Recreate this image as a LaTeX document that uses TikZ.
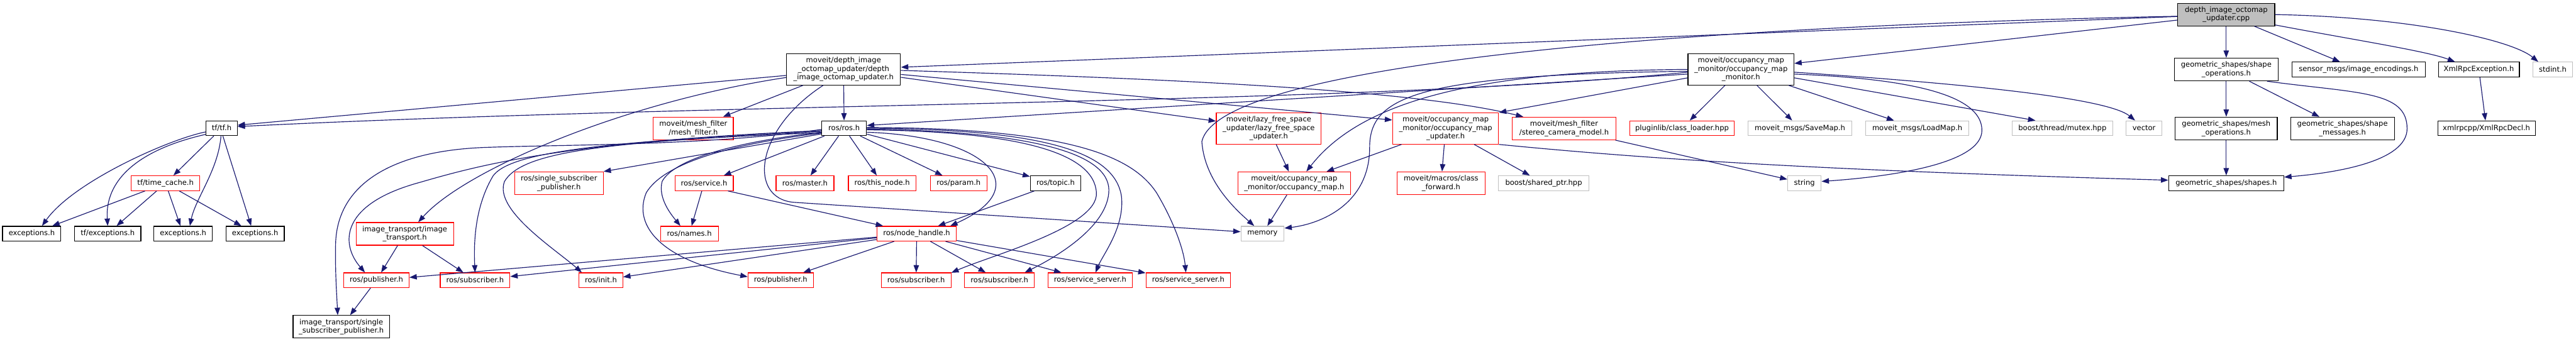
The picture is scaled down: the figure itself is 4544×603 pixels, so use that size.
\documentclass[tikz,border=0pt]{standalone}
\usepackage{fontspec}
\setmainfont{DejaVu Sans}
\usepackage{xcolor}
\usepackage{tikz}
\usetikzlibrary{arrows.meta}
\definecolor{edgeblue}{HTML}{191970}
\definecolor{truncred}{HTML}{FF0000}
\definecolor{sysgrey}{HTML}{BFBFBF}
\tikzset{
  hdr/.style={draw=black, fill=white, line width=1.3pt, inner sep=1pt,
              align=center, minimum height=26pt,
              font=\fontsize{12.8}{15}\selectfont},
  hdrtrunc/.style={hdr, draw=truncred},
  hdrsys/.style={hdr, draw=sysgrey},
  hdrroot/.style={hdr, fill=sysgrey},
  lines2/.style={minimum height=40pt},
  lines3/.style={minimum height=55pt},
  dep/.style={draw=edgeblue, line width=1.3pt, -{Triangle[length=13pt,width=9.5pt]}}
}

\begin{document}
\begin{tikzpicture}[x=1pt,y=-1pt]
  \useasboundingbox (0,0) rectangle (4544,603);

  \node[hdrroot, lines2, minimum width=171pt] (root) at (3927,25.7) {depth\_image\_octomap\\\_updater.cpp};

  \node[hdr, lines3, minimum width=201pt] (depthh) at (1488,122.5) {moveit/depth\_image\\\_octomap\_updater/depth\\\_image\_octomap\_updater.h};
  \node[hdr, lines3, minimum width=187pt] (occmon) at (3071,122.5) {moveit/occupancy\_map\\\_monitor/occupancy\_map\\\_monitor.h};
  \node[hdr, lines2, minimum width=183pt] (shapeops) at (3927,122.7) {geometric\_shapes/shape\\\_operations.h};
  \node[hdr, minimum width=235pt] (imgenc) at (4160.5,122.7) {sensor\_msgs/image\_encodings.h};
  \node[hdr, minimum width=143pt] (xmlexc) at (4372.6,122.7) {XmlRpcException.h};
  \node[hdrsys, minimum width=70pt] (stdint) at (4503,122.7) {stdint.h};

  \node[hdr, minimum width=55pt] (tf) at (391,226.3) {tf/tf.h};
  \node[hdrtrunc, lines2, minimum width=141pt] (meshfilter) at (1223,226.7) {moveit/mesh\_filter\\/mesh\_filter.h};
  \node[hdr, minimum width=79pt] (ros) at (1489,226.3) {ros/ros.h};
  \node[hdrtrunc, lines3, minimum width=185pt] (lazy) at (2238,226.7) {moveit/lazy\_free\_space\\\_updater/lazy\_free\_space\\\_updater.h};
  \node[hdrtrunc, lines3, minimum width=187pt] (occupd) at (2550,226.7) {moveit/occupancy\_map\\\_monitor/occupancy\_map\\\_updater.h};
  \node[hdrtrunc, lines2, minimum width=183pt] (stereo) at (2759,226.7) {moveit/mesh\_filter\\/stereo\_camera\_model.h};
  \node[hdrtrunc, minimum width=184pt] (plugin) at (2967,226.3) {pluginlib/class\_loader.hpp};
  \node[hdrsys, minimum width=183pt] (savemap) at (3175,226.3) {moveit\_msgs/SaveMap.h};
  \node[hdrsys, minimum width=182pt] (loadmap) at (3382,226.3) {moveit\_msgs/LoadMap.h};
  \node[hdrsys, minimum width=177pt] (mutex) at (3638,226.3) {boost/thread/mutex.hpp};
  \node[hdrsys, minimum width=63pt] (vector) at (3782,226.3) {vector};
  \node[hdr, lines2, minimum width=180pt] (meshops) at (3927,226.7) {geometric\_shapes/mesh\\\_operations.h};
  \node[hdr, lines2, minimum width=183pt] (shapemsg) at (4132,226.7) {geometric\_shapes/shape\\\_messages.h};
  \node[hdr, minimum width=172pt] (xmldecl) at (4386,226.3) {xmlrpcpp/XmlRpcDecl.h};

  \node[hdrtrunc, minimum width=121pt] (timecache) at (292,323.3) {tf/time\_cache.h};
  \node[hdrtrunc, lines2, minimum width=156pt] (rossinglesub) at (986,323.3) {ros/single\_subscriber\\\_publisher.h};
  \node[hdrtrunc, minimum width=103pt] (service) at (1242,323.3) {ros/service.h};
  \node[hdrtrunc, minimum width=102pt] (master) at (1420,323.3) {ros/master.h};
  \node[hdrtrunc, minimum width=119pt] (thisnode) at (1556,323.3) {ros/this\_node.h};
  \node[hdrtrunc, minimum width=100pt] (param) at (1691,323.3) {ros/param.h};
  \node[hdr, minimum width=89pt] (topic) at (1862,323.3) {ros/topic.h};
  \node[hdrtrunc, lines2, minimum width=199pt] (occmap) at (2283,323.3) {moveit/occupancy\_map\\\_monitor/occupancy\_map.h};
  \node[hdrtrunc, lines2, minimum width=155pt] (classfwd) at (2542,323.3) {moveit/macros/class\\\_forward.h};
  \node[hdrsys, minimum width=159pt] (sharedptr) at (2723,323.3) {boost/shared\_ptr.hpp};
  \node[hdrsys, minimum width=59pt] (string) at (3183,323.3) {string};
  \node[hdr, minimum width=203pt] (shapes) at (3927,323.3) {geometric\_shapes/shapes.h};

  \node[hdr, minimum width=103pt] (exc1) at (56,412.3) {exceptions.h};
  \node[hdr, minimum width=117pt] (tfexc) at (190,412.3) {tf/exceptions.h};
  \node[hdr, minimum width=103pt] (exc2) at (323,412.3) {exceptions.h};
  \node[hdr, minimum width=103pt] (exc3) at (450,412.3) {exceptions.h};
  \node[hdrtrunc, lines2, minimum width=172pt] (imgtrans) at (714,412.7) {image\_transport/image\\\_transport.h};
  \node[hdrtrunc, minimum width=102pt] (names) at (1216,412.3) {ros/names.h};
  \node[hdrtrunc, minimum width=140pt] (nodehandle) at (1617,412.3) {ros/node\_handle.h};
  \node[hdrsys, minimum width=76pt] (memory) at (2227,412.3) {memory};

  \node[hdrtrunc, minimum width=115pt] (pub1) at (664,494.5) {ros/publisher.h};
  \node[hdrtrunc, minimum width=123pt] (sub1) at (838,494.5) {ros/subscriber.h};
  \node[hdrtrunc, minimum width=77pt] (init) at (1060,494.5) {ros/init.h};
  \node[hdrtrunc, minimum width=115pt] (pub2) at (1377,494.5) {ros/publisher.h};
  \node[hdrtrunc, minimum width=123pt] (sub2) at (1616,494.5) {ros/subscriber.h};
  \node[hdrtrunc, minimum width=123pt] (sub3) at (1763,494.5) {ros/subscriber.h};
  \node[hdrtrunc, minimum width=149pt] (srv1) at (1923,494.5) {ros/service\_server.h};
  \node[hdrtrunc, minimum width=149pt] (srv2) at (2096,494.5) {ros/service\_server.h};

  \node[hdr, lines2, minimum width=170pt] (imgsingle) at (602,576.7) {image\_transport/single\\\_subscriber\_publisher.h};

  % root file
  \draw[dep] (root) -- (depthh);
  \draw[dep] (root) -- (occmon);
  \draw[dep] (root) -- (shapeops);
  \draw[dep] (root) -- (imgenc);
  \draw[dep] (root.-12) .. controls (4150,70) and (4280,90) .. (xmlexc.162);
  \draw[dep] (root.east) .. controls (4250,30) and (4430,70) .. (stdint.152);
  \draw[dep] (root.182) .. controls (3000,45) and (2150,110) .. (2120,250) .. controls (2125,320) and (2180,370) .. (memory.137);

  % depth image updater header
  \draw[dep] (depthh.186) -- (tf.11);
  \draw[dep] (depthh) -- (meshfilter);
  \draw[dep] (depthh) -- (ros);
  \draw[dep] (depthh.188) .. controls (1100,180) and (820,300) .. (imgtrans.41);
  \draw[dep] (depthh) -- (lazy);
  \draw[dep] (depthh.-5) -- (occupd.171);
  \draw[dep] (depthh.-1) .. controls (2100,140) and (2500,160) .. (stereo.164);
  \draw[dep] (depthh.-142) .. controls (1330,230) and (1320,350) .. (1400,357) -- (memory.175);

  % occupancy map monitor
  \draw[dep] (occmon.183) .. controls (2400,185) and (1300,180) .. (tf.6);
  \draw[dep] (occmon.185) -- (ros.7);
  \draw[dep] (occmon.180) .. controls (2600,125) and (2400,180) .. (occmap.44);
  \draw[dep] (occmon.182) .. controls (2500,132) and (2416,170) .. (2416,260) .. controls (2416,360) and (2330,395) .. (memory.14);
  \draw[dep] (occmon.189) -- (occupd.north east);
  \draw[dep] (occmon) -- (plugin);
  \draw[dep] (occmon) -- (savemap);
  \draw[dep] (occmon) -- (loadmap);
  \draw[dep] (occmon.-9) -- (mutex.164);
  \draw[dep] (occmon.-3) .. controls (3500,150) and (3720,175) .. (vector.139);
  \draw[dep] (occmon.-5) .. controls (3400,140) and (3496,175) .. (3496,230) .. controls (3496,290) and (3330,312) .. (string.6);

  % geometric shapes
  \draw[dep] (shapeops) -- (meshops);
  \draw[dep] (shapeops) -- (shapemsg);
  \draw[dep] (shapeops.-16) .. controls (4160,165) and (4246,160) .. (4246,227) .. controls (4246,285) and (4120,305) .. (shapes.6);
  \draw[dep] (meshops) -- (shapes);
  \draw[dep] (xmlexc) -- (xmldecl);

  % tf
  \draw[dep] (tf) -- (timecache);
  \draw[dep] (tf.193) .. controls (300,245) and (130,320) .. (exc1.37);
  \draw[dep] (tf.201) .. controls (240,265) and (185,320) .. (tfexc.north);
  \draw[dep] (tf.-95) .. controls (385,300) and (345,350) .. (exc2.49);
  \draw[dep] (tf.-81) -- (exc3.117);
  \draw[dep] (timecache) -- (exc1);
  \draw[dep] (timecache) -- (tfexc);
  \draw[dep] (timecache) -- (exc2);
  \draw[dep] (timecache) -- (exc3);

  % ros
  \draw[dep] (ros) -- (service);
  \draw[dep] (ros) -- (master);
  \draw[dep] (ros) -- (thisnode);
  \draw[dep] (ros) -- (param);
  \draw[dep] (ros) -- (topic);
  \draw[dep] (ros.194) -- (rossinglesub.north east);
  \draw[dep] (ros.190) .. controls (1300,250) and (1190,280) .. (1168,320) .. controls (1160,350) and (1185,380) .. (names.139);
  \draw[dep] (ros.192) .. controls (1280,255) and (1170,290) .. (1140,340) .. controls (1115,400) and (1170,460) .. (pub2.174);
  \draw[dep] (ros.186) .. controls (1000,250) and (850,290) .. (740,322) .. controls (600,360) and (600,430) .. (pub1.146);
  \draw[dep] (ros.188) .. controls (1050,250) and (900,270) .. (870,310) .. controls (840,360) and (835,420) .. (sub1.north);
  \draw[dep] (ros.191) .. controls (1050,250) and (920,270) .. (890,320) .. controls (870,370) and (980,440) .. (init.158);
  \draw[dep] (ros.183) .. controls (1250,257) and (1000,255) .. (860,260) .. controls (700,265) and (595,320) .. (592,430) .. controls (591,480) and (594,520) .. (imgsingle.107);
  \draw[dep] (ros.-10) .. controls (1740,240) and (1830,330) .. (nodehandle.13);
  \draw[dep] (ros.-4) .. controls (1800,232) and (1930,270) .. (1934,340) .. controls (1938,400) and (1750,450) .. (sub2.12);
  \draw[dep] (ros.-2) .. controls (1820,232) and (1955,270) .. (1956,335) .. controls (1956,400) and (1860,455) .. (sub3.17);
  \draw[dep] (ros.0) .. controls (1850,228) and (1965,270) .. (1978,345) .. controls (1985,400) and (1945,450) .. (srv1.55);
  \draw[dep] (ros.2) .. controls (1900,226) and (2000,280) .. (2040,340) .. controls (2070,390) and (2088,440) .. (srv2.107);

  \draw[dep] (service) -- (names);
  \draw[dep] (service.-18) -- (nodehandle.167);
  \draw[dep] (topic) -- (nodehandle);

  % node handle
  \draw[dep] (nodehandle) -- (pub1);
  \draw[dep] (nodehandle) -- (sub1);
  \draw[dep] (nodehandle) -- (init);
  \draw[dep] (nodehandle) -- (pub2);
  \draw[dep] (nodehandle) -- (sub2);
  \draw[dep] (nodehandle) -- (sub3);
  \draw[dep] (nodehandle) -- (srv1);
  \draw[dep] (nodehandle) -- (srv2);

  \draw[dep] (imgtrans) -- (pub1);
  \draw[dep] (imgtrans) -- (sub1);
  \draw[dep] (pub1) -- (imgsingle);

  % updaters
  \draw[dep] (lazy) -- (occmap);
  \draw[dep] (occupd) -- (occmap);
  \draw[dep] (occupd) -- (classfwd);
  \draw[dep] (occupd) -- (sharedptr);
  \draw[dep] (occupd.south east) .. controls (2900,280) and (3200,300) .. (shapes.177);
  \draw[dep] (stereo) -- (string);
  \draw[dep] (occmap) -- (memory);
\end{tikzpicture}
\end{document}
